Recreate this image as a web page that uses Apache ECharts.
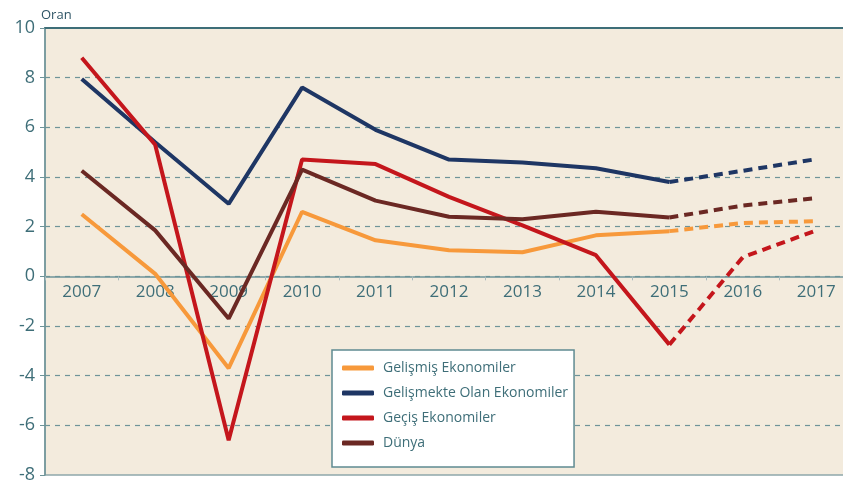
<!DOCTYPE html>
<html>
<head>
<meta charset="utf-8">
<script src="https://cdn.jsdelivr.net/npm/echarts@6/dist/echarts.min.js"></script>
<style>
  html, body { margin: 0; padding: 0; background: #ffffff; }
  #chart { width: 843px; height: 482px; }
</style>
</head>
<body>
<div id="chart"></div>
<script>
// yillar ve seriler
const years = ['2007', '2008', '2009', '2010', '2011', '2012', '2013', '2014', '2015', '2016', '2017']
const gelismis = [2.5, 0.1, -3.7, 2.6, 1.45, 1.05, 0.97, 1.65, 1.82, 2.15, 2.22]
const gelismekte = [7.95, 5.4, 2.92, 7.6, 5.9, 4.7, 4.58, 4.35, 3.8, 4.25, 4.72]
const gecis = [8.8, 5.3, -6.6, 4.7, 4.52, 3.2, 2.05, 0.85, -2.75, 0.77, 1.85]
const dunya = [4.25, 1.85, -1.7, 4.3, 3.05, 2.4, 2.3, 2.6, 2.37, 2.85, 3.15]
const names = ['Gelişmiş Ekonomiler', 'Gelişmekte Olan Ekonomiler', 'Geçiş Ekonomiler', 'Dünya']
const colors = ['#F7993B', '#1E3664', '#C4161C', '#6B2823']
const yTicks = [-8, -6, -4, -2, 0, 2, 4, 6, 8, 10]

const lastActual = 8 // 2015

function solidPart(arr) {
  return arr.map((v, i) => (i <= lastActual ? v : null))
}
function dashPart(arr) {
  return arr.map((v, i) => (i >= lastActual ? v : null))
}

const allData = [gelismis, gelismekte, gecis, dunya]
let series = []
allData.forEach((arr, k) => {
  series.push({
    name: names[k], type: 'line', data: solidPart(arr), symbol: 'none',
    color: colors[k], lineStyle: { width: 4, color: colors[k] }, z: 3
  })
  series.push({
    name: names[k], type: 'line', data: dashPart(arr), symbol: 'none',
    color: colors[k], lineStyle: { width: 4, color: colors[k], type: [9, 6] }, z: 3
  })
})

const axisCol = '#6E9499'
const textCol = '#3E6E78'

// grid: top 28, bottom 7 -> height 447, y=0 sits 10/18 of the way down
const gridTop = 28, gridBottom = 7, chartH = 482
const plotH = chartH - gridTop - gridBottom
const zeroOffset = plotH * (8 / 18)

let ch = echarts.init(document.getElementById('chart'), null, { renderer: 'canvas' })
let option = {
  animation: false,
  backgroundColor: '#ffffff',
  textStyle: { fontFamily: 'Open Sans' },
  title: {
    text: 'Oran',
    left: 36,
    top: 4,
    textStyle: { fontSize: 13, fontWeight: 'normal', color: '#2F5566', fontFamily: 'Open Sans' }
  },
  grid: {
    left: 45,
    right: -10,
    top: gridTop,
    bottom: gridBottom,
    outerBoundsMode: 'none',
    containLabel: false,
    show: true,
    backgroundColor: '#F3EBDD',
    borderColor: '#8FA8AB',
    borderWidth: 1.5
  },
  legend: {
    data: names,
    orient: 'vertical',
    left: 332,
    top: 350,
    padding: [11, 6, 17, 10],
    itemGap: 11,
    itemWidth: 32,
    itemHeight: 5,
    icon: 'roundRect',
    backgroundColor: '#ffffff',
    borderColor: '#5F8B91',
    borderWidth: 1.5,
    borderRadius: 0,
    textStyle: { fontSize: 14, color: '#3E6E78', fontFamily: 'Open Sans', padding: [0, 0, 0, 4] }
  },
  xAxis: [{
    type: 'category',
    data: years,
    boundaryGap: true,
    position: 'bottom',
    offset: -zeroOffset,
    axisLine: { onZero: false, lineStyle: { color: axisCol, width: 1.5 } },
    axisTick: { show: true, length: 4, lineStyle: { color: '#A9BBBD' } },
    axisLabel: { color: textCol, fontSize: 17, margin: 7, fontFamily: 'Open Sans' },
    splitLine: { show: false }
  }, {
    // ust kenar cizgisi
    type: 'category',
    data: years,
    position: 'top',
    axisLine: { show: true, onZero: false, lineStyle: { color: '#3E6E78', width: 2 } },
    axisTick: { show: false },
    axisLabel: { show: false },
    splitLine: { show: false }
  }],
  yAxis: {
    type: 'value',
    min: -8,
    max: 10,
    interval: 2,
    axisLine: { show: true, lineStyle: { color: axisCol, width: 1.5 } },
    axisTick: { show: true, length: 5, lineStyle: { color: axisCol } },
    axisLabel: {
      color: textCol, fontSize: 18, margin: 10, fontFamily: 'Open Sans',
      formatter: v => (yTicks.indexOf(v) >= 0 ? String(v) : '')
    },
    splitLine: {
      show: true,
      lineStyle: { color: '#6E9499', type: [5, 5], width: 1.2 },
      showMinLine: false,
      showMaxLine: false
    }
  },
  series: series
}
ch.setOption(option)
</script>
</body>
</html>
